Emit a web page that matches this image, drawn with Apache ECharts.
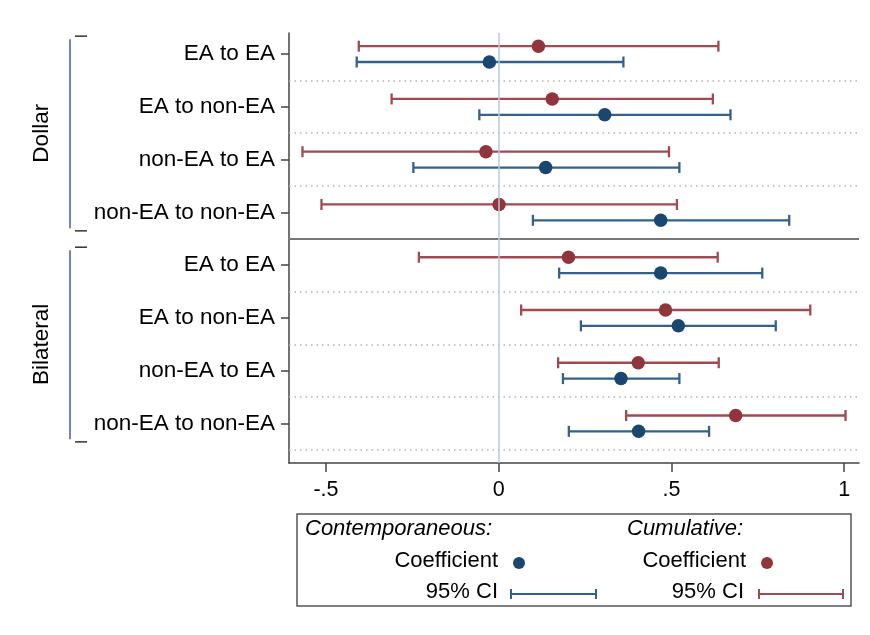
<!DOCTYPE html>
<html><head><meta charset="utf-8">
<script src="https://cdn.jsdelivr.net/npm/echarts@6/dist/echarts.min.js"></script>
<style>html,body{margin:0;padding:0;background:#fff}#c{width:870px;height:635px}</style>
</head><body><div id="c"></div>
<script>
const groups = ['Dollar', 'Bilateral'];
const categories = ['EA to EA', 'EA to non-EA', 'non-EA to EA', 'non-EA to non-EA',
                    'EA to EA', 'EA to non-EA', 'non-EA to EA', 'non-EA to non-EA'];
const contCoef = [-0.027, 0.307, 0.136, 0.469, 0.469, 0.520, 0.354, 0.405];
const contLo   = [-0.411, -0.056, -0.247, 0.099, 0.175, 0.238, 0.186, 0.203];
const contHi   = [0.361, 0.671, 0.523, 0.841, 0.763, 0.802, 0.523, 0.609];
const cumCoef  = [0.115, 0.155, -0.037, 0.001, 0.202, 0.483, 0.404, 0.686];
const cumLo    = [-0.405, -0.310, -0.568, -0.513, -0.231, 0.065, 0.172, 0.369];
const cumHi    = [0.636, 0.620, 0.493, 0.516, 0.634, 0.902, 0.637, 1.004];
const xTicks = [-0.5, 0, 0.5, 1];
const xTickLabels = ['-.5', '0', '.5', '1'];

const BLUE = '#1a476f', RED = '#90353b';
const BLUE_CI = '#33618c', RED_CI = '#a24a52';
const FONT = "'Liberation Sans', Arial, sans-serif";
const OFF = 0.15;
const pos = categories.map((c, i) => i + 1);

function ciData(lo, hi, sign) {
  return lo.map((l, i) => [l, hi[i], pos[i] + sign * OFF]);
}
function ptData(v, sign) {
  return v.map((x, i) => [x, pos[i] + sign * OFF]);
}
function ciSeries(name, data, color) {
  return {
    name, type: 'custom', data, z: 3, silent: true,
    encode: { x: [0, 1], y: 2 },
    renderItem(params, api) {
      const a = api.coord([api.value(0), api.value(2)]);
      const b = api.coord([api.value(1), api.value(2)]);
      const st = { stroke: color, lineWidth: 2.3 };
      return { type: 'group', children: [
        { type: 'line', shape: { x1: a[0], y1: a[1], x2: b[0], y2: b[1] }, style: st },
        { type: 'line', shape: { x1: a[0], y1: a[1] - 5.5, x2: a[0], y2: a[1] + 5.5 }, style: st },
        { type: 'line', shape: { x1: b[0], y1: b[1] - 5.5, x2: b[0], y2: b[1] + 5.5 }, style: st }
      ]};
    }
  };
}

const dotted = { type: [1.5, 4], color: '#b4b4b4', width: 1.5 };
const gridLines = [1.5, 2.5, 3.5, 5.5, 6.5, 7.5, 8.5].map(v => ({ yAxis: v, lineStyle: dotted }));

const chart = echarts.init(document.getElementById('c'));
chart.setOption({
  backgroundColor: '#fff',
  animation: false,
  textStyle: { fontFamily: FONT },
  grid: { left: 289, right: 11, top: 33, bottom: 172 },
  xAxis: {
    type: 'value', min: -0.607, max: 1.043,
    axisLine: { show: true, onZero: false, lineStyle: { color: '#444', width: 1.5 } },
    axisTick: { show: true, customValues: xTicks, length: 9, lineStyle: { color: '#444', width: 1.5 } },
    axisLabel: { customValues: xTicks, fontSize: 21.5, color: '#000', margin: 16, fontFamily: FONT,
      formatter: v => xTickLabels[xTicks.findIndex(t => Math.abs(t - v) < 1e-9)] },
    splitLine: { show: false }
  },
  yAxis: {
    type: 'value', inverse: true, min: 0.6, max: 8.75,
    axisLine: { show: true, onZero: false, lineStyle: { color: '#444', width: 1.5 } },
    axisTick: { show: true, customValues: pos, length: 8, lineStyle: { color: '#444', width: 1.5 } },
    axisLabel: { customValues: pos, fontSize: 22.5, color: '#000', margin: 14, fontFamily: FONT,
      formatter: v => categories[Math.round(v) - 1] },
    splitLine: { show: false }
  },
  series: [
    { name: 'refs', type: 'scatter', data: [], z: 1, silent: true,
      markLine: { silent: true, symbol: 'none', label: { show: false }, animation: false,
        data: gridLines.concat([
          { yAxis: 4.5, lineStyle: { type: 'solid', color: '#777', width: 2 } },
          { xAxis: 0, lineStyle: { type: 'solid', color: '#b9c9da', width: 1.5 } }
        ]) } },
    ciSeries('Cumulative 95% CI', ciData(cumLo, cumHi, -1), RED_CI),
    ciSeries('Contemporaneous 95% CI', ciData(contLo, contHi, 1), BLUE_CI),
    { name: 'Cumulative Coefficient', type: 'scatter', data: ptData(cumCoef, -1), symbolSize: 13.5, z: 4,
      itemStyle: { color: RED, opacity: 1 } },
    { name: 'Contemporaneous Coefficient', type: 'scatter', data: ptData(contCoef, 1), symbolSize: 13.5, z: 4,
      itemStyle: { color: BLUE, opacity: 1 } }
  ]
});

// group brackets and labels, positioned through the y scale
const gfx = [];
groups.forEach((g, gi) => {
  const first = gi * 4 + 1, last = gi * 4 + 4;
  const yTick1 = chart.convertToPixel({ yAxisIndex: 0 }, first - 0.34);
  const yTick2 = chart.convertToPixel({ yAxisIndex: 0 }, last + 0.35);
  const yL1 = chart.convertToPixel({ yAxisIndex: 0 }, first - 0.28);
  const yL2 = chart.convertToPixel({ yAxisIndex: 0 }, last + 0.30);
  const yMid = chart.convertToPixel({ yAxisIndex: 0 }, (first + last) / 2);
  gfx.push({ type: 'line', shape: { x1: 70, y1: yL1, x2: 70, y2: yL2 }, style: { stroke: '#4456b8', lineWidth: 1.5 } });
  gfx.push({ type: 'line', shape: { x1: 75, y1: yTick1, x2: 87, y2: yTick1 }, style: { stroke: '#333', lineWidth: 1.5 } });
  gfx.push({ type: 'line', shape: { x1: 75, y1: yTick2, x2: 87, y2: yTick2 }, style: { stroke: '#333', lineWidth: 1.5 } });
  gfx.push({ type: 'text', x: 42, y: yMid, rotation: Math.PI / 2,
    style: { text: g, fontSize: 22.5, fontFamily: FONT, fill: '#000', align: 'center', verticalAlign: 'middle' } });
});

// legend box
function ciIcon(x1, x2, y, color) {
  const st = { stroke: color, lineWidth: 2 };
  return [
    { type: 'line', shape: { x1, y1: y, x2, y2: y }, style: st },
    { type: 'line', shape: { x1, y1: y - 5, x2: x1, y2: y + 5 }, style: st },
    { type: 'line', shape: { x1: x2, y1: y - 5, x2, y2: y + 5 }, style: st }
  ];
}
const txt = (text, x, y, align, italic) => ({ type: 'text', x, y,
  style: { text, fontSize: 22, fontFamily: FONT, fontStyle: italic ? 'italic' : 'normal', fill: '#000',
    align, verticalAlign: 'middle' } });
gfx.push({ type: 'rect', shape: { x: 297, y: 514, width: 554, height: 92 },
  style: { fill: '#fff', stroke: '#555', lineWidth: 1.5 } });
gfx.push(txt('Contemporaneous:', 305, 529, 'left', true));
gfx.push(txt('Cumulative:', 627, 529, 'left', true));
gfx.push(txt('Coefficient', 498, 561, 'right'));
gfx.push(txt('Coefficient', 746, 561, 'right'));
gfx.push(txt('95% CI', 498, 592, 'right'));
gfx.push(txt('95% CI', 744, 592, 'right'));
gfx.push({ type: 'circle', shape: { cx: 519, cy: 563, r: 6 }, style: { fill: BLUE } });
gfx.push({ type: 'circle', shape: { cx: 767, cy: 563, r: 6 }, style: { fill: RED } });
ciIcon(511, 596, 594, BLUE_CI).forEach(e => gfx.push(e));
ciIcon(759, 843, 594, RED_CI).forEach(e => gfx.push(e));

chart.setOption({ graphic: { elements: gfx } });
</script>
</body></html>
